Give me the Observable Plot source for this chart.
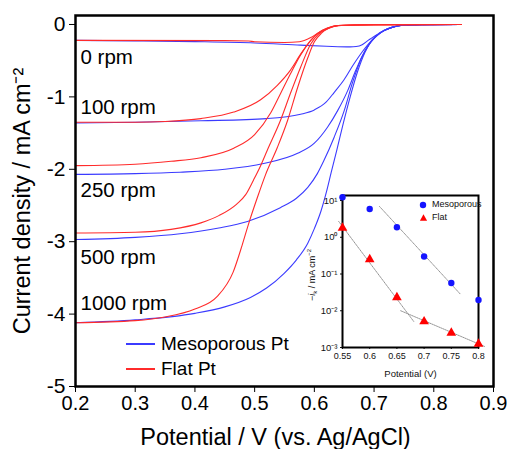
<!DOCTYPE html>
<html><head><meta charset="utf-8">
<script src="https://cdn.jsdelivr.net/npm/d3@7"></script>
<script src="https://cdn.jsdelivr.net/npm/@observablehq/plot@0.6"></script>
<style>
body{margin:0;background:#fff;}
#wrap{position:relative;width:507px;height:449px;overflow:hidden;font-family:"Liberation Sans",Arial,sans-serif;}
#wrap > svg{position:absolute;}
.leg{position:absolute;font-size:19px;line-height:25px;color:#000;white-space:nowrap;}
.leg .row{display:flex;align-items:center;height:25px;}
.leg .sw{display:inline-block;width:29px;height:2px;margin-right:6px;}
.ileg{position:absolute;font-size:9px;line-height:13px;color:#111;white-space:nowrap;}
.ileg .row{display:flex;align-items:center;height:13px;}
.ileg svg{display:block;}
.ititle{position:absolute;font-size:9px;white-space:nowrap;transform:translate(-50%,-50%) rotate(-90deg);color:#111;}
</style></head><body><div id="wrap"></div><script>
const FONT = '"Liberation Sans", Arial, sans-serif';
// ---- main chart data: [potential V, current density mA cm^-2] ----
const blue0 = [[0.2,-0.22],[0.3,-0.227],[0.4,-0.237],[0.5,-0.255],[0.577,-0.285],[0.62,-0.3],[0.66,-0.31],[0.67,-0.305],[0.68,-0.28],[0.69,-0.22],[0.707,-0.13],[0.717,-0.08],[0.73,-0.04],[0.745,-0.015],[0.78,-0.003],[0.846,0]];
const blue100 = [[0.2,-1.36],[0.3,-1.35],[0.41,-1.33],[0.52,-1.3],[0.577,-1.24],[0.6,-1.18],[0.62,-1.07],[0.633,-0.94],[0.65,-0.76],[0.665,-0.56],[0.68,-0.38],[0.695,-0.23],[0.707,-0.14],[0.717,-0.085],[0.73,-0.04],[0.745,-0.015],[0.78,-0.003],[0.846,0]];
const blue250 = [[0.2,-2.07],[0.3,-2.06],[0.375,-2.04],[0.45,-2.0],[0.515,-1.92],[0.572,-1.78],[0.6,-1.64],[0.622,-1.42],[0.639,-1.19],[0.656,-0.91],[0.668,-0.66],[0.681,-0.42],[0.695,-0.24],[0.707,-0.14],[0.717,-0.085],[0.73,-0.04],[0.745,-0.015],[0.78,-0.003],[0.846,0]];
const blue500 = [[0.2,-2.97],[0.3,-2.94],[0.375,-2.89],[0.44,-2.81],[0.488,-2.72],[0.543,-2.53],[0.57,-2.4],[0.589,-2.25],[0.605,-2.06],[0.616,-1.88],[0.633,-1.56],[0.65,-1.19],[0.664,-0.8],[0.678,-0.48],[0.692,-0.27],[0.705,-0.15],[0.717,-0.085],[0.73,-0.04],[0.745,-0.015],[0.78,-0.003],[0.846,0]];
const blue1000 = [[0.2,-4.12],[0.3,-4.08],[0.4,-3.99],[0.45,-3.9],[0.493,-3.77],[0.52,-3.64],[0.549,-3.44],[0.57,-3.25],[0.589,-3.02],[0.6,-2.82],[0.611,-2.58],[0.62,-2.32],[0.628,-2.05],[0.638,-1.72],[0.648,-1.38],[0.66,-1.0],[0.672,-0.66],[0.685,-0.38],[0.697,-0.21],[0.708,-0.125],[0.717,-0.08],[0.73,-0.04],[0.745,-0.015],[0.78,-0.003],[0.846,0]];
const red0 = [[0.2,-0.22],[0.45,-0.223],[0.49,-0.228],[0.5,-0.238],[0.55,-0.248],[0.575,-0.238],[0.594,-0.18],[0.606,-0.12],[0.622,-0.055],[0.64,-0.015],[0.7,-0.003],[0.846,0]];
const red100 = [[0.2,-1.35],[0.3,-1.35],[0.35,-1.34],[0.41,-1.3],[0.465,-1.21],[0.51,-1.04],[0.538,-0.84],[0.56,-0.63],[0.577,-0.41],[0.594,-0.22],[0.606,-0.12],[0.622,-0.05],[0.64,-0.015],[0.7,-0.003],[0.846,0]];
const red250 = [[0.2,-1.95],[0.3,-1.93],[0.36,-1.89],[0.41,-1.84],[0.465,-1.71],[0.5,-1.52],[0.527,-1.22],[0.543,-0.96],[0.56,-0.68],[0.577,-0.42],[0.594,-0.22],[0.606,-0.12],[0.622,-0.05],[0.64,-0.015],[0.7,-0.003],[0.846,0]];
const red500 = [[0.2,-2.88],[0.3,-2.87],[0.36,-2.83],[0.41,-2.74],[0.44,-2.64],[0.47,-2.48],[0.485,-2.35],[0.498,-2.15],[0.51,-1.95],[0.521,-1.74],[0.543,-1.33],[0.56,-0.95],[0.577,-0.59],[0.594,-0.27],[0.606,-0.14],[0.622,-0.06],[0.64,-0.015],[0.7,-0.003],[0.846,0]];
const red1000 = [[0.2,-4.12],[0.3,-4.09],[0.35,-4.04],[0.4,-3.93],[0.437,-3.76],[0.464,-3.42],[0.479,-3.05],[0.49,-2.75],[0.505,-2.38],[0.518,-2.08],[0.538,-1.7],[0.555,-1.33],[0.572,-0.87],[0.589,-0.46],[0.6,-0.24],[0.612,-0.12],[0.625,-0.05],[0.645,-0.015],[0.7,-0.003],[0.846,0]];

const xTicks = [0.2,0.3,0.4,0.5,0.6,0.7,0.8,0.9];
const yTicks = [0,-1,-2,-3,-4,-5];
const rpmLabelText = ["0 rpm","100 rpm","250 rpm","500 rpm","1000 rpm"];
const rpmLabelY = [-0.46,-1.15,-2.29,-3.22,-3.85];
const xLabel = "Potential / V (vs. Ag/AgCl)";
const yLabel = "Current density / mA cm\u207B\u00B2";
const legendNames = ["Mesoporous Pt","Flat Pt"];
const BLUE = "#3b3bff", RED = "#ff2b2b";

// ---- inset data ----
const insetPotential = [0.55,0.6,0.65,0.7,0.75,0.8];
const mesoIk = [12.3,5.9,1.87,0.30,0.057,0.0196];
const flatIk = [1.8,0.25,0.023,0.0051,0.0025,0.00125];
const fitMesoV = [0.618,0.766], fitMesoI = [6.9,0.029];
const fitFlat1V = [0.543,0.681], fitFlat1I = [2.7,0.0051];
const fitFlat2V = [0.657,0.811], fitFlat2I = [0.01,0.00107];
const insetXTicks = [0.55,0.6,0.65,0.7,0.75,0.8];
const insetYTicks = [1e-3,1e-2,1e-1,1,10];
const insetYTickText = ["10\u207B\u00B3","10\u207B\u00B2","10\u207B\u00B9","10\u2070","10\u00B9"];
const insetLegendNames = ["Mesoporous","Flat"];

const toRows = (pts) => pts.map(([v,j]) => ({v, j}));
const blueSeries = [blue0,blue100,blue250,blue500,blue1000].flatMap((s,k)=>toRows(s).map(d=>({...d,id:k})));
const redSeries = [red0,red100,red250,red500,red1000].flatMap((s,k)=>toRows(s).map(d=>({...d,id:k})));

const wrap = document.getElementById("wrap");

const main = Plot.plot({
  width: 507, height: 449,
  marginLeft: 75, marginRight: 14, marginTop: 15, marginBottom: 63,
  style: {fontFamily: FONT, fontSize: "19px", color: "black", background: "white", overflow: "visible"},
  x: {domain: [0.2, 0.9]},
  y: {domain: [-5, 0.124]},
  marks: [
    Plot.axisX({ticks: xTicks, tickFormat: d => d.toFixed(1), tickSize: 6, tickPadding: 3, fontSize: 20, label: null}),
    Plot.axisY({ticks: yTicks, tickFormat: d => String(d), tickSize: 6, tickPadding: 4, fontSize: 21, label: null}),
    Plot.line(blueSeries, {x: "v", y: "j", z: "id", stroke: BLUE, strokeWidth: 1.1, curve: "monotone-x"}),
    Plot.line(redSeries, {x: "v", y: "j", z: "id", stroke: RED, strokeWidth: 1.1, curve: "monotone-x"}),
    Plot.text(rpmLabelText, {y: rpmLabelY, frameAnchor: "left", dx: 5, textAnchor: "start", fontSize: 20.5}),
    Plot.frame({stroke: "black", strokeWidth: 2.5}),
    Plot.text([xLabel], {frameAnchor: "bottom", dy: 51, dx: -9, fontSize: 23.5, textAnchor: "middle", lineAnchor: "middle"}),
    Plot.text([yLabel], {frameAnchor: "left", dx: -53, rotate: -90, fontSize: 23.5, textAnchor: "middle", lineAnchor: "middle"})
  ]
});
main.style.left = "0px"; main.style.top = "0px";
wrap.appendChild(main);

// legend
const leg = document.createElement("div");
leg.className = "leg";
leg.style.left = "126px"; leg.style.top = "331px";
leg.innerHTML = legendNames.map((n,i)=>`<div class="row"><span class="sw" style="background:${i?RED:BLUE}"></span>${n}</div>`).join("");
wrap.appendChild(leg);

// inset
const inset = Plot.plot({
  width: 200, height: 200,
  marginLeft: 47, marginRight: 17, marginTop: 10, marginBottom: 38,
  style: {fontFamily: FONT, fontSize: "9px", color: "#111", background: "transparent", overflow: "visible"},
  x: {domain: [0.55, 0.8]},
  y: {type: "log", domain: [1e-3, 13.7]},
  marks: [
    Plot.axisX({ticks: insetXTicks, tickFormat: d => String(+d.toFixed(2)), tickSize: 2, tickPadding: 3, fontSize: 9, label: null}),
    Plot.axisY({ticks: insetYTicks, tickFormat: d => insetYTickText[insetYTicks.indexOf(d)], tickSize: 2, tickPadding: 3, fontSize: 9.5, label: null}),
    Plot.line(fitMesoV.map((v,i)=>({v, k: fitMesoI[i]})), {x: "v", y: "k", stroke: "#888", strokeWidth: 0.9, strokeDasharray: "1,1"}),
    Plot.line(fitFlat1V.map((v,i)=>({v, k: fitFlat1I[i]})), {x: "v", y: "k", stroke: "#888", strokeWidth: 0.9, strokeDasharray: "1,1"}),
    Plot.line(fitFlat2V.map((v,i)=>({v, k: fitFlat2I[i]})), {x: "v", y: "k", stroke: "#888", strokeWidth: 0.9, strokeDasharray: "1,1"}),
    Plot.frame({stroke: "black", strokeWidth: 2}),
    Plot.dot(insetPotential, {x: d => d, y: (d,i) => mesoIk[i], r: 3.2, fill: "#1414ff", stroke: "none"}),
    Plot.dot(insetPotential, {x: d => d, y: (d,i) => flatIk[i], r: 3.6, symbol: "triangle", fill: "#ff0000", stroke: "none"}),
    Plot.text(["Potential (V)"], {frameAnchor: "bottom", dy: 26, fontSize: 9.5, lineAnchor: "middle"})
  ]
});
inset.style.left = "295px"; inset.style.top = "185px";
wrap.appendChild(inset);

const it = document.createElement("div");
it.className = "ititle";
it.style.left = "312px"; it.style.top = "275px";
it.innerHTML = "\u2212<i>i</i><sub style='font-size:6px'>k</sub> / mA cm<sup style='font-size:6px'>\u22122</sup>";
wrap.appendChild(it);

const il = document.createElement("div");
il.className = "ileg";
il.style.left = "418px"; il.style.top = "198px";
il.innerHTML = `<div class="row"><svg width="14" height="10"><circle cx="5" cy="5" r="3.2" fill="#1414ff"/></svg>${insetLegendNames[0]}</div>` +
  `<div class="row"><svg width="14" height="10"><path d="M5.5,1.2 L9.1,7.8 L1.9,7.8 Z" fill="#ff0000"/></svg>${insetLegendNames[1]}</div>`;
wrap.appendChild(il);
</script></body></html>
